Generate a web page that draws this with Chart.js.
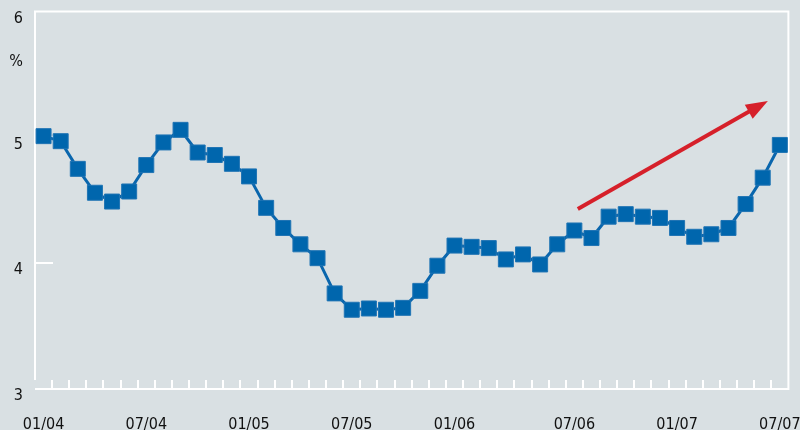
<!DOCTYPE html>
<html>
<head>
<meta charset="utf-8">
<script src="https://cdn.jsdelivr.net/npm/chart.js@4"></script>
<style>
    html, body { margin: 0; padding: 0; background: #d9e0e3; }
    #wrap { width: 800px; height: 430px; position: relative; }
</style>
</head>
<body>
<div id="wrap"><canvas id="rateChart"></canvas></div>
<script>
// Monthly series (%), 44 points
const rateValues = [
    5.01, 4.97, 4.75, 4.56, 4.49, 4.57, 4.78, 4.96, 5.06, 4.88, 4.86,
    4.79, 4.69, 4.44, 4.28, 4.15, 4.04, 3.76, 3.63, 3.64, 3.63, 3.645,
    3.78, 3.98, 4.14, 4.13, 4.12, 4.03, 4.07, 3.99, 4.15, 4.26, 4.20,
    4.37, 4.39, 4.37, 4.36, 4.28, 4.21, 4.23, 4.28, 4.47, 4.68, 4.94
];

// x tick labels and the point index they sit under
const tickLabels = ['01/04', '07/04', '01/05', '07/05', '01/06', '07/06', '01/07', '07/07'];
const tickIndexes = [0, 6, 12, 18, 24, 31, 37, 43];

// y axis range
const yMin = 3;
const yMax = 6;
const yUnit = '%';

// trend arrow, in data units (point index, %)
const arrowFrom = { x: 31.2, y: 4.43 };
const arrowTo = { x: 42.3, y: 5.29 };

// Category labels: blank except where a tick label goes
const categories = rateValues.map((v, i) => {
    const k = tickIndexes.indexOf(i);
    return k >= 0 ? tickLabels[k] : '';
});

const fontFamily = "'Liberation Sans Narrow', 'DejaVu Sans Condensed', 'Liberation Sans', sans-serif";
const textColor = '#111111';
const lineColor = '#0a66ad';
const markColor = '#0066ad';
const arrowColor = '#d6202a';

// Draws the white frame and the inward tick marks
const framePlugin = {
    id: 'frame',
    beforeDatasetsDraw(chart) {
        const { ctx, chartArea: a, scales: { x, y } } = chart;
        ctx.save();
        ctx.strokeStyle = '#ffffff';
        ctx.lineWidth = 2;
        ctx.beginPath();
        ctx.moveTo(a.left, a.bottom - 9);
        ctx.lineTo(a.left, a.top);
        ctx.lineTo(a.right, a.top);
        ctx.lineTo(a.right, a.bottom);
        ctx.lineTo(a.left, a.bottom);
        ctx.stroke();

        // month ticks between points
        ctx.beginPath();
        for (let i = 0; i < rateValues.length - 1; i++) {
            const xx = Math.round((x.getPixelForValue(i) + x.getPixelForValue(i + 1)) / 2);
            ctx.moveTo(xx, a.bottom);
            ctx.lineTo(xx, a.bottom - 9);
        }
        // y ticks
        for (let v = yMin + 1; v < yMax; v++) {
            const yy = Math.round(y.getPixelForValue(v));
            ctx.moveTo(a.left, yy);
            ctx.lineTo(a.left + 18, yy);
        }
        ctx.stroke();

        // unit label
        ctx.fillStyle = textColor;
        ctx.font = '16px ' + fontFamily;
        ctx.textAlign = 'right';
        ctx.textBaseline = 'middle';
        ctx.fillText(yUnit, 23, 62);
        ctx.restore();
    },
    afterDatasetsDraw(chart) {
        const { ctx, scales: { x, y } } = chart;
        const x0 = x.getPixelForValue(arrowFrom.x);
        const y0 = y.getPixelForValue(arrowFrom.y);
        const x1 = x.getPixelForValue(arrowTo.x);
        const y1 = y.getPixelForValue(arrowTo.y);
        const ang = Math.atan2(y1 - y0, x1 - x0);
        const headLen = 22;
        const headW = 8;
        ctx.save();
        ctx.strokeStyle = arrowColor;
        ctx.fillStyle = arrowColor;
        ctx.lineWidth = 4;
        ctx.beginPath();
        ctx.moveTo(x0, y0);
        ctx.lineTo(x1 - Math.cos(ang) * (headLen - 2), y1 - Math.sin(ang) * (headLen - 2));
        ctx.stroke();
        const bx = x1 - Math.cos(ang) * headLen;
        const by = y1 - Math.sin(ang) * headLen;
        ctx.beginPath();
        ctx.moveTo(x1, y1);
        ctx.lineTo(bx - Math.sin(ang) * headW, by + Math.cos(ang) * headW);
        ctx.lineTo(bx + Math.sin(ang) * headW, by - Math.cos(ang) * headW);
        ctx.closePath();
        ctx.fill();
        ctx.restore();
    }
};

const ctx = document.getElementById('rateChart').getContext('2d');
const rateChart = new Chart(ctx, {
    type: 'line',
    data: {
        labels: categories,
        datasets: [{
            data: rateValues,
            borderColor: lineColor,
            borderWidth: 3,
            backgroundColor: markColor,
            pointStyle: 'rect',
            pointRadius: 10.6,
            pointBorderWidth: 1,
            pointBorderColor: '#1f74b4',
            pointBackgroundColor: markColor,
            tension: 0,
            fill: false
        }]
    },
    options: {
        responsive: true,
        maintainAspectRatio: false,
        animation: false,
        layout: { padding: { top: 11, right: 9, bottom: 0, left: 0 } },
        plugins: {
            legend: { display: false },
            tooltip: { enabled: false }
        },
        scales: {
            x: {
                type: 'category',
                offset: true,
                grid: { display: false, drawTicks: false },
                border: { display: false },
                ticks: {
                    autoSkip: false,
                    maxRotation: 0,
                    padding: 26,
                    color: textColor,
                    font: { family: fontFamily, size: 16 }
                },
                afterFit(scale) {
                    scale.height = 41;
                    scale.paddingLeft = 0;
                    scale.paddingRight = 0;
                }
            },
            y: {
                min: yMin,
                max: yMax,
                grid: { display: false, drawTicks: false },
                border: { display: false },
                ticks: {
                    stepSize: 1,
                    padding: 12,
                    labelOffset: 7,
                    color: textColor,
                    font: { family: fontFamily, size: 16 }
                },
                afterFit(scale) {
                    scale.width = 35;
                    scale.paddingTop = 0;
                    scale.paddingBottom = 0;
                }
            }
        }
    },
    plugins: [framePlugin]
});
</script>
</body>
</html>
